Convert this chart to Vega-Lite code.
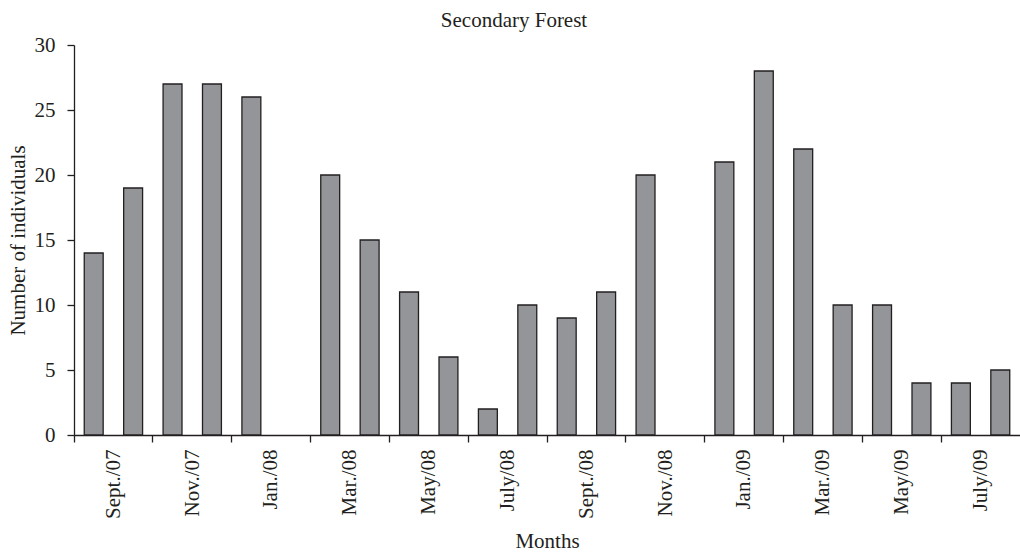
{
  "$schema": "https://vega.github.io/schema/vega-lite/v6.json",
  "autosize": {"type": "none"},
  "width": 946,
  "height": 390,
  "padding": {"left": 74, "top": 45, "right": 0, "bottom": 118},
  "background": "white",
  "title": {
    "text": "Secondary Forest",
    "font": "Liberation Serif",
    "fontSize": 21,
    "fontWeight": "normal",
    "color": "#231f20",
    "offset": 3,
    "dx": -33
  },
  "data": {
    "values": [
      {"month": "Sept./07", "n": 14},
      {"month": "Oct./07", "n": 19},
      {"month": "Nov./07", "n": 27},
      {"month": "Dec./07", "n": 27},
      {"month": "Jan./08", "n": 26},
      {"month": "Feb./08", "n": 0},
      {"month": "Mar./08", "n": 20},
      {"month": "Apr./08", "n": 15},
      {"month": "May/08", "n": 11},
      {"month": "June/08", "n": 6},
      {"month": "July/08", "n": 2},
      {"month": "Aug./08", "n": 10},
      {"month": "Sept./08", "n": 9},
      {"month": "Oct./08", "n": 11},
      {"month": "Nov./08", "n": 20},
      {"month": "Dec./08", "n": 0},
      {"month": "Jan./09", "n": 21},
      {"month": "Feb./09", "n": 28},
      {"month": "Mar./09", "n": 22},
      {"month": "Apr./09", "n": 10},
      {"month": "May/09", "n": 10},
      {"month": "June/09", "n": 4},
      {"month": "July/09", "n": 4},
      {"month": "Aug./09", "n": 5}
    ]
  },
  "mark": {"type": "bar", "width": {"band": 0.48}, "fill": "#939598", "stroke": "#231f20", "strokeWidth": 1.3},
  "encoding": {
    "x": {
      "field": "month",
      "type": "nominal",
      "sort": null,
      "scale": {"paddingInner": 0, "paddingOuter": 0},
      "axis": {
        "title": "Months",
        "values": ["Sept./07", "Nov./07", "Jan./08", "Mar./08", "May/08", "July/08", "Sept./08", "Nov./08", "Jan./09", "Mar./09", "May/09", "July/09"],
        "bandPosition": 0,
        "labelOffset": 20,
        "labelAngle": -90,
        "labelAlign": "right",
        "labelBaseline": "middle",
        "labelPadding": 7,
        "tickSize": 7,
        "titlePadding": 12
      }
    },
    "y": {
      "field": "n",
      "type": "quantitative",
      "scale": {"domain": [0, 30], "nice": false},
      "axis": {
        "title": "Number of individuals",
        "values": [0, 5, 10, 15, 20, 25, 30],
        "tickSize": 7,
        "labelPadding": 12,
        "grid": false,
        "titlePadding": 6
      }
    },
    "strokeOpacity": {"condition": {"test": "datum.n === 0", "value": 0}, "value": 1}
  },
  "config": {
    "view": {"stroke": null},
    "axis": {
      "labelFont": "Liberation Serif",
      "titleFont": "Liberation Serif",
      "labelFontSize": 21,
      "titleFontSize": 21,
      "titleFontWeight": "normal",
      "labelColor": "#231f20",
      "titleColor": "#231f20",
      "domainColor": "#231f20",
      "tickColor": "#231f20",
      "domainWidth": 1.3,
      "tickWidth": 1.3,
      "grid": false
    }
  }
}
